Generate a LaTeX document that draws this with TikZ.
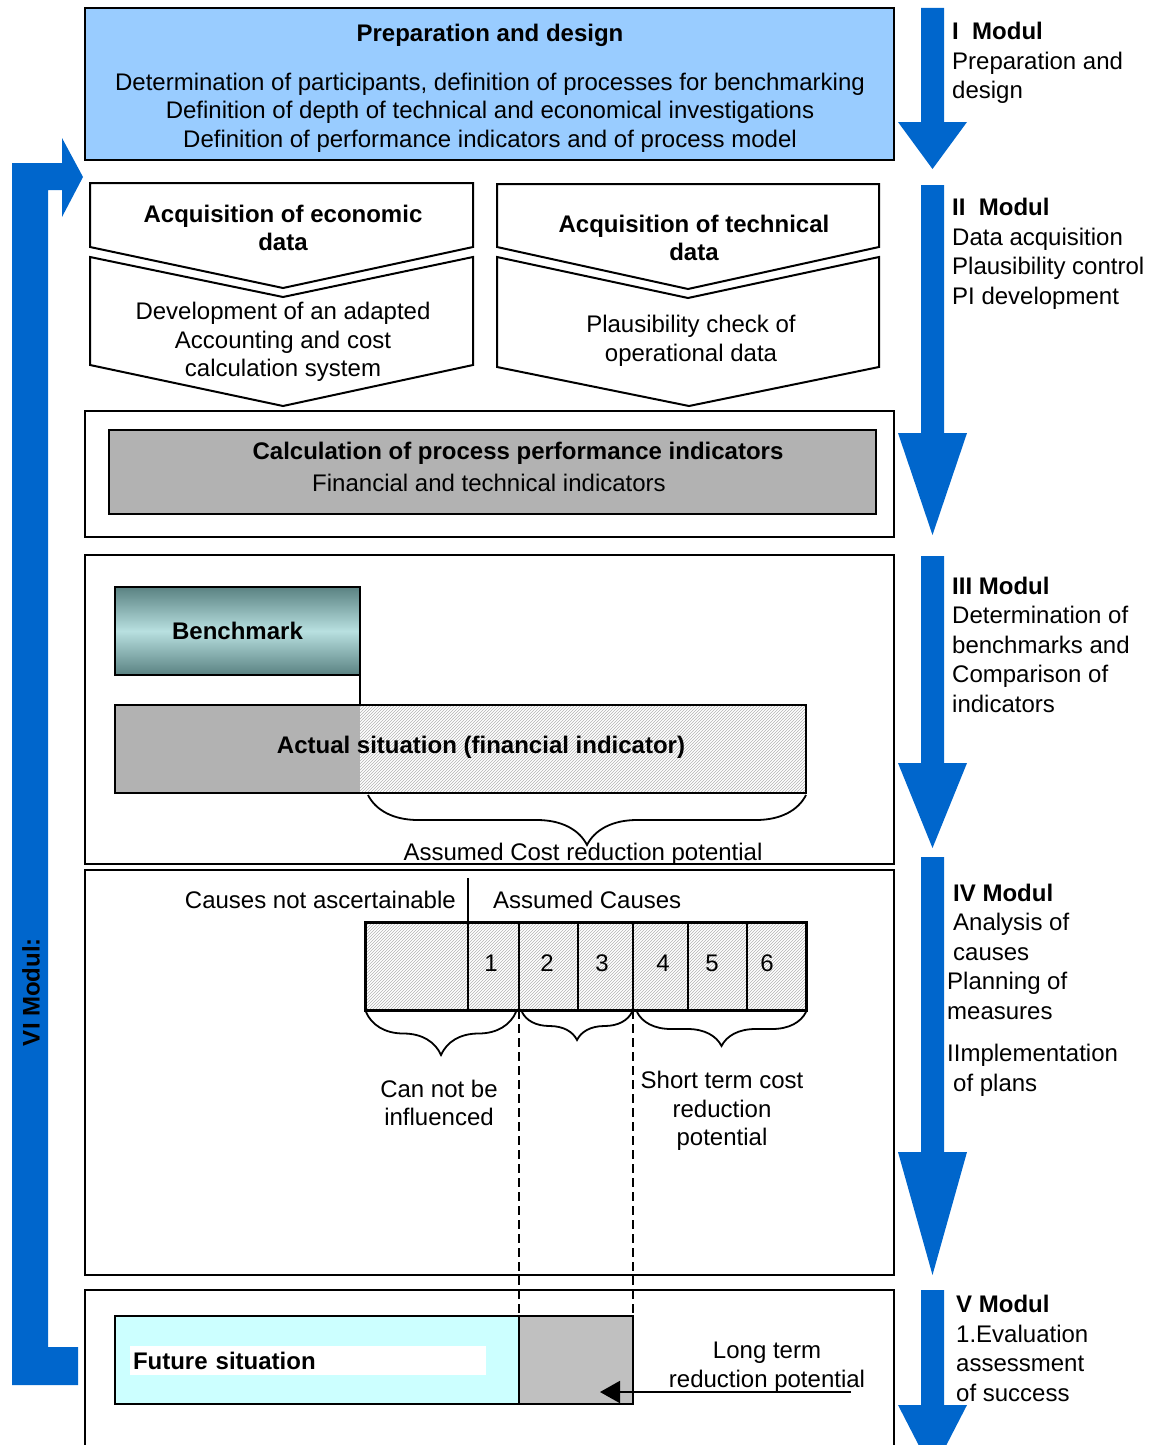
\documentclass[tikz,border=0pt]{standalone}
\usepackage{fontspec}
\setmainfont{Liberation Sans}
\usetikzlibrary{positioning,patterns,decorations.pathreplacing,arrows.meta}
\definecolor{modulblue}{RGB}{0,102,204}
\definecolor{prepblue}{RGB}{153,204,255}
\definecolor{calcgray}{RGB}{178,178,178}
\definecolor{potgray}{RGB}{192,192,192}
\definecolor{benchdark}{RGB}{90,130,130}
\definecolor{benchlight}{RGB}{184,224,224}
\definecolor{futurecyan}{RGB}{204,255,255}
\tikzstyle{frame}=[draw, line width=2.5pt, anchor=north west, inner sep=0pt, outer sep=0pt]
\tikzstyle{chevron}=[draw, line width=2pt, fill=white, line join=miter]
\tikzstyle{txt}=[align=center, inner sep=0pt]
\tikzstyle{modul}=[align=left, anchor=base west, inner sep=0pt,
        font=\fontsize{24}{29.5}\selectfont]
\tikzstyle{hatch}=[pattern=north east lines, pattern color=gray!60]
\tikzset{curly/.style={decorate, decoration={brace, mirror, amplitude=#1}, line width=1.8pt}}

\begin{document}
\begin{tikzpicture}[x=1pt, y=-1pt]
      \fontsize{24}{28.5}\selectfont
      \useasboundingbox (0,0) rectangle (1149,1445);
      % Modul arrows
      \foreach \ya/\yb/\yc in {8/122/169, 185/433/535, 556/763/848, 857/1152/1275, 1290/1405/1472}
        \fill[modulblue] (921,\ya) -- (944,\ya) -- (944,\yb) -- (967,\yb) -- (932.5,\yc)
          -- (898,\yb) -- (921,\yb) -- cycle;
      \fill[modulblue] (78,1347) -- (78,1385) -- (12,1385) -- (12,163) -- (62,163) -- (62,138)
        -- (83,177) -- (62,217) -- (62,190) -- (48,190) -- (48,1347) -- cycle;
      \node[rotate=90, font=\bfseries, inner sep=0pt] (modVI) at (31,992) {VI Modul:};
      % Place nodes
      \node[frame, fill=prepblue, minimum width=809pt, minimum height=152pt] (prep) at (85,8) {};
      \node[txt] (preptext) at (490,88)
        {\textbf{Preparation and design}\\[20.5pt]
         Determination of participants, definition of processes for benchmarking\\
         Definition of depth of technical and economical investigations\\
         Definition of performance indicators and of process model};
      \draw[chevron] (90,183) -- (473,183) -- (473,247) -- (283,288) -- (90,247) -- cycle;
      \draw[chevron] (90,257) -- (283,297) -- (473,257) -- (473,365) -- (283,406) -- (90,365) -- cycle;
      \draw[chevron] (497,184) -- (879,184) -- (879,247) -- (688,289) -- (497,247) -- cycle;
      \draw[chevron] (497,257) -- (688,298) -- (879,257) -- (879,367) -- (689,406) -- (497,367) -- cycle;
      \node[txt, font=\bfseries] (econhead) at (283,228) {Acquisition of economic\\data};
      \node[txt] (econbody) at (283,342) {Development of an adapted\\Accounting and cost\\calculation system};
      \node[txt, font=\bfseries] (techhead) at (694,238) {Acquisition of technical\\data};
      \node[txt] (techbody) at (691,341) {Plausibility check of\\operational data};
      \node[frame, minimum width=809pt, minimum height=126pt] (calcframe) at (85,411) {};
      \node[frame, line width=2pt, fill=calcgray, minimum width=767pt, minimum height=84pt] (calc) at (109,430) {};
      \node[txt, font=\bfseries] (calctitle) at (518,453) {Calculation of process performance indicators};
      \node[txt] (calcsub) at (489,483) {Financial and technical indicators};
      \node[frame, minimum width=809pt, minimum height=309pt] (benchframe) at (85,555) {};
      \node[frame, minimum width=809pt, minimum height=405pt] (causeframe) at (85,870) {};
      \draw[line width=2.5pt] (85,1450) |- (894,1290) -- (894,1450);
      \node[frame, top color=benchdark, bottom color=benchdark, middle color=benchlight,
        minimum width=245pt, minimum height=88pt, font=\bfseries] (bench) at (115,587) {Benchmark};
      \fill[calcgray] (115,705) rectangle (360,793);
      \fill[hatch] (360,705) rectangle (806,793);
      \node[frame, minimum width=691pt, minimum height=88pt] (actual) at (115,705) {};
      \node[txt, font=\bfseries] (actualtext) at (481,747) {Actual situation (financial indicator)};
      \draw[line width=1.2pt] (bench.south east) -- (bench.south east |- actual.north);
      \draw[curly=50pt] (368,795) -- (806,795);
      \node[txt] (costpot) at (583,854) {Assumed Cost reduction potential};
      \node[txt, anchor=east] (notasc) at (456,900) {Causes not ascertainable};
      \node[txt, anchor=west] (assumed) at (493,900) {Assumed Causes};
      \node[frame, line width=3pt, hatch, minimum width=441pt, minimum height=88pt] (cells) at (365,922) {};
      \draw[line width=1.5pt] (468,878) -- (468,1010);
      \foreach \x in {519,578,633,688,747}
        \draw[line width=1.5pt] (\x,922) -- (\x,1010);
      \foreach \n/\x in {1/491,2/547,3/602,4/663,5/712,6/767}
        \node[txt] (cause\n) at (\x,963) {\n};
      \draw[curly=43pt] (366,1012) -- (516,1012);
      \draw[curly=28pt] (522,1012) -- (632,1012);
      \draw[curly=34pt] (637,1012) -- (806,1012);
      \node[txt] (noinfl) at (439,1103) {Can not be\\influenced};
      \node[txt] (shortpot) at (722,1111) {Short term cost\\reduction\\potential};
      \node[frame, fill=futurecyan, minimum width=404pt, minimum height=88pt] (future) at (115,1316) {};
      \node[frame, draw=none, fill=white, minimum width=353pt, minimum height=29pt, text width=350pt,
        align=left, inner xsep=3pt, font=\bfseries] (futuretext) at (130,1346) {Future situation};
      \node[frame, fill=potgray, minimum width=114pt, minimum height=88pt] (longpot) at (519,1316) {};
      \node[txt] (longtext) at (767,1367) {Long term\\reduction potential};
      \coordinate (longstart) at (851,1392);
      \coordinate (longend) at (600,1392);
      % Draw edges
      \draw[dashed, dash pattern=on 9pt off 5pt, line width=1.5pt] (cells.south -| longpot.north west) -- (longpot.north west);
      \draw[dashed, dash pattern=on 9pt off 5pt, line width=1.5pt] (cells.south -| longpot.north east) -- (longpot.north east);
      \draw[line width=2pt, -{Triangle[length=20pt, width=22pt]}] (longstart) -- (longend);
      % Modul texts (base = last line)
      \node[modul] (modI) at (952,99) {\textbf{I\ \ Modul}\\Preparation and\\design};
      \node[modul] (modII) at (952,304) {\textbf{II\ \ Modul}\\Data acquisition\\Plausibility control\\PI development};
      \node[modul] (modIII) at (952,712) {\textbf{III Modul}\\Determination of\\benchmarks and\\Comparison of\\indicators};
      \node[modul] (modIV) at (947,1091) {\hspace{6pt}\textbf{IV Modul}\\\hspace{6pt}Analysis of\\\hspace{6pt}causes\\
        Planning of\\measures\\[13pt]IImplementation\\\hspace{6pt}of plans};
      \node[modul] (modV) at (956,1401) {\textbf{V Modul}\\1.Evaluation\\assessment\\of success};
\end{tikzpicture}
\end{document}
